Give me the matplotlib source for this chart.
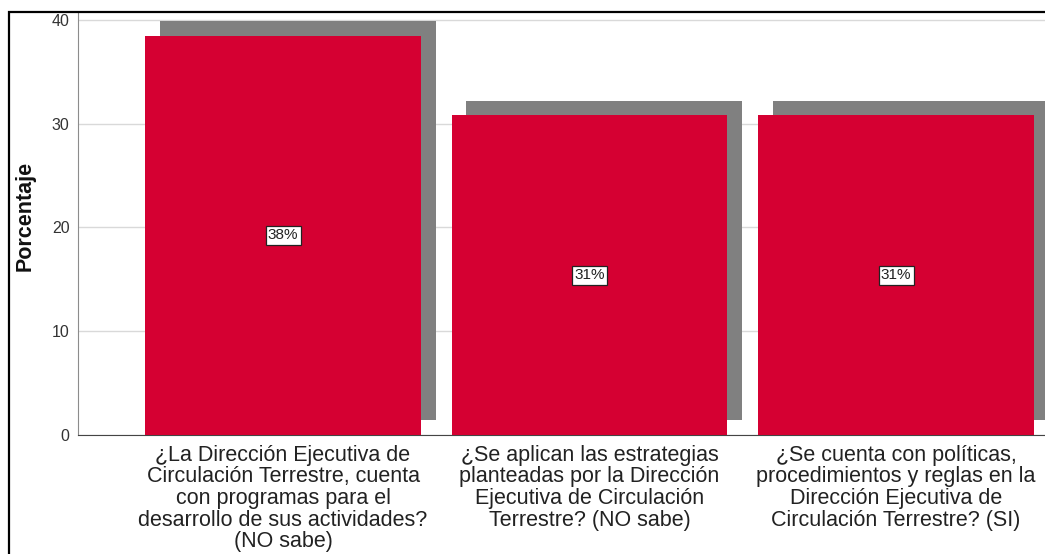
import matplotlib
matplotlib.use("Agg")
import matplotlib.pyplot as plt
from matplotlib.patches import Rectangle

plt.rcParams['font.family'] = ['Liberation Sans', 'DejaVu Sans']

# data
categorias = [
    "¿La Dirección Ejecutiva de\nCirculación Terrestre, cuenta\ncon programas para el\ndesarrollo de sus actividades?\n(NO sabe)",
    "¿Se aplican las estrategias\nplanteadas por la Dirección\nEjecutiva de Circulación\nTerrestre? (NO sabe)",
    "¿Se cuenta con políticas,\nprocedimientos y reglas en la\nDirección Ejecutiva de\nCirculación Terrestre? (SI)",
]
porcentajes = [38.5, 30.8, 30.8]
etiquetas = ["38%", "31%", "31%"]
yticks = [0, 10, 20, 30, 40]

ROJO = "#D50032"
SOMBRA = "#808080"

fig = plt.figure(figsize=(10.45, 5.54), dpi=100)
W, H = 1045, 554
ax = fig.add_axes([78 / W, 119 / H, 1 - 78 / W, (435 - 12) / H])

x = list(range(len(categorias)))
ancho = 0.9
# drop shadow behind each bar (offset right / up)
dx, dy = 0.048, 1.4
ax.bar([i + dx for i in x], porcentajes, width=ancho, bottom=dy,
       color=SOMBRA, zorder=2, clip_on=True)
ax.bar(x, porcentajes, width=ancho, color=ROJO, zorder=3)

for i, v, t in zip(x, porcentajes, etiquetas):
    ax.text(i, v / 2, t, ha="center", va="center", fontsize=11, color="#222222",
            zorder=5, bbox=dict(boxstyle="square,pad=0.15", fc="white", ec="#222222", lw=0.9))

ax.set_xlim(-0.669, 2.486)
ax.set_ylim(0, 40.77)
ax.set_yticks(yticks)
ax.set_yticklabels([str(v) for v in yticks], fontsize=11.5, color="#333333")
ax.set_xticks(x)
ax.set_xticklabels(categorias, fontsize=15.5, color="#222222", linespacing=1.04)
ax.tick_params(axis="x", length=0, pad=7)
ax.tick_params(axis="y", length=0, pad=6)

ax.yaxis.grid(True, color="#D9D9D9", lw=1.0, zorder=0)
ax.set_axisbelow(True)
for s in ["top", "right"]:
    ax.spines[s].set_visible(False)
ax.spines["left"].set_color("#8c8c8c")
ax.spines["bottom"].set_color("#444444")

fig.text(25 / W, 1 - 216 / H, "Porcentaje", rotation=90, ha="center", va="center",
         fontsize=15.5, fontweight="bold", color="#111111")

# outer chart frame (cropped on right and bottom)
fig.patches.append(Rectangle((9 / W, -0.1), 1.2, 1 - 12 / H + 0.1, transform=fig.transFigure,
                             fill=False, ec="black", lw=1.6))

fig.savefig("out.png", dpi=100, facecolor="white")
